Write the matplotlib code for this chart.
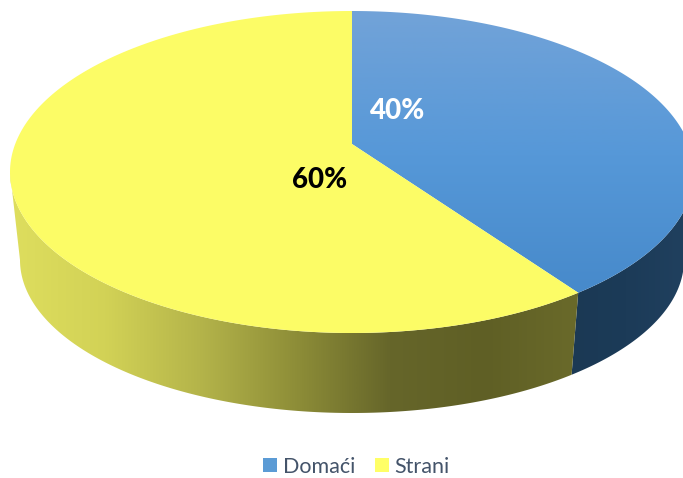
import numpy as np
import matplotlib
matplotlib.use("Agg")
import matplotlib.pyplot as plt
from matplotlib.colors import LinearSegmentedColormap
from matplotlib.patches import Patch, Polygon

labels = ["Domaći", "Strani"]
shares = [40, 60]
label_text = ["40%", "60%"]
label_colors = ["white", "black"]
label_pos = [(398, 111), (320, 180)]

plt.rcParams["font.family"] = ["Lato", "DejaVu Sans"]

W, H = 683, 478
# ellipses of the top face and of the bottom edge, in pixels
TOP = (352, 172, 342, 161)
BOTTOM = (352, 260, 332, 153)
# perspective pushes the pie centre up from the ellipse centre
SHIFT = 0.15
APEX = (352, 144)


def rim(angles, ell):
    # angle in degrees clockwise from 12 o'clock -> pixel position
    a = np.radians(angles)
    u, v = np.sin(a), np.cos(a)
    d = 1 + SHIFT * v
    u2 = u * np.sqrt(1 - SHIFT ** 2) / d
    v2 = (v + SHIFT) / d
    return np.column_stack([ell[0] + ell[2] * u2, ell[1] - ell[3] * v2])


def gradient(ax, clip, colors, horizontal, extent):
    cmap = LinearSegmentedColormap.from_list("g", colors)
    g = np.linspace(0, 1, 256)
    g = g[None, :] if horizontal else g[:, None]
    im = ax.imshow(g, cmap=cmap, extent=extent, aspect="auto", zorder=2, interpolation="bilinear")
    clip.set_visible(False)
    ax.add_patch(clip)
    im.set_clip_path(clip)


fig = plt.figure(figsize=(W / 100, H / 100), dpi=100)
ax = fig.add_axes([0, 0, 1, 1])

edges = np.cumsum([0] + shares) / sum(shares) * 360
blue_a = np.linspace(edges[0], edges[1], 300)
yellow_a = np.linspace(edges[1], edges[2], 400)

# side walls, only the visible front half
vis_r = np.degrees(np.arccos(-SHIFT))
vis_l = 360 - vis_r
a = np.linspace(vis_r, edges[1], 200)
blue_side = Polygon(np.vstack([rim(a, TOP), rim(a[::-1], BOTTOM)]), transform=ax.transData)
gradient(ax, blue_side, ["#1B3954", "#1C3B58", "#20405E"], True, (570, 683, H, 0))

a = np.linspace(edges[1], vis_l, 300)
yellow_side = Polygon(np.vstack([rim(a, TOP), rim(a[::-1], BOTTOM)]), transform=ax.transData)
gradient(ax, yellow_side,
         ["#DEDE5E", "#D2D256", "#B4B44A", "#8E8E38", "#66662A", "#5F5F25", "#6A6A2A"],
         True, (10, 580, H, 0))

# top face
blue_top = Polygon(np.vstack([APEX, rim(blue_a, TOP)]), transform=ax.transData)
gradient(ax, blue_top, ["#72A3D8", "#5698D8", "#4689CA"], False, (0, W, 300, 11))

ax.add_patch(Polygon(np.vstack([APEX, rim(yellow_a, TOP)]), facecolor="#FCFC66",
                     edgecolor="none", zorder=3))

for txt, col, pos in zip(label_text, label_colors, label_pos):
    ax.text(pos[0], pos[1], txt, color=col, fontsize=20, fontweight=900,
            ha="center", va="center", zorder=5)

handles = [Patch(facecolor="#5B9BD5", label=labels[0]), Patch(facecolor="#FFFF66", label=labels[1])]
ax.legend(handles=handles, loc="center", bbox_to_anchor=(0.522, 0.024), ncol=2, frameon=False,
          fontsize=15.5, labelcolor="#44546A", handlelength=0.65, handleheight=0.65,
          handletextpad=0.28, columnspacing=0.88, borderpad=0, borderaxespad=0)

ax.set_xlim(0, W)
ax.set_ylim(H, 0)
ax.axis("off")
fig.savefig("out.png", dpi=100)
